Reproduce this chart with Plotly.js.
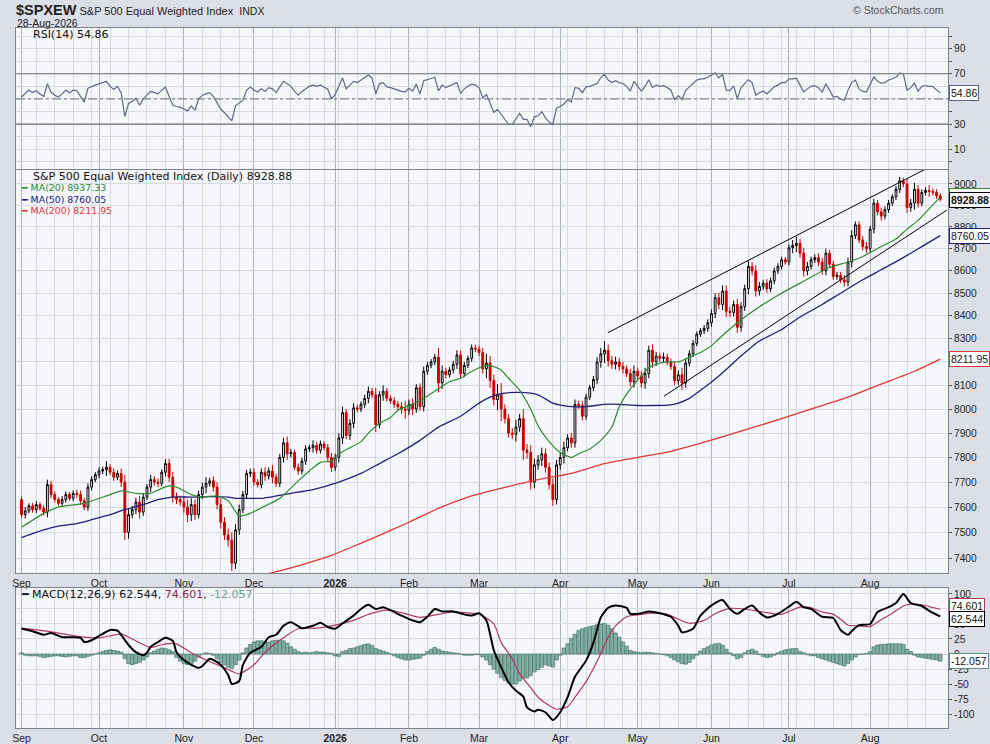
<!DOCTYPE html>
<html><head><meta charset="utf-8">
<script src="https://cdn.plot.ly/plotly-3.0.1.min.js"></script>
<style>html,body{margin:0;padding:0;background:#dcdfe8;}#chart{width:990px;height:744px;}</style>
</head><body><div id="chart"></div>
<script>
// ---------- DATA ----------
const startDate = '2025-09-02';
const endDate = '2026-08-28';
const holidays = ['2025-09-01','2025-11-27','2025-12-25','2026-01-01','2026-01-19','2026-02-16','2026-04-03','2026-05-25','2026-06-19','2026-07-03'];
const monthNames = ['Jan','Feb','Mar','Apr','May','Jun','Jul','Aug','Sep','Oct','Nov','Dec'];
const prevClose = 7630;

const closes = [
 7570,7585,7605,7590,7610,7595,7580,7690,7650,7630,7615,7630,7650,7635,7655,7650,7625,7600,7680,7710,7730,
 7745,7750,7760,7740,7720,7735,7700,7500,7570,7590,7620,7580,7640,7680,7710,7700,7695,7740,7775,7720,7640,7630,7620,
 7600,7570,7610,7570,7650,7680,7695,7705,7680,7610,7540,7490,7470,7380,7510,7590,7650,7735,7740,
 7700,7690,7740,7725,7745,7720,7695,7800,7860,7815,7820,7760,7745,7785,7835,7840,7850,7830,7855,7840,7800,7760,
 7800,7880,7985,7890,7940,8005,8000,8020,8045,8075,8060,7935,8060,8075,8045,8035,8020,8010,8000,7995,
 8020,8000,8090,8010,8160,8185,8200,8220,8110,8160,8145,8165,8190,8230,8150,8185,8215,8260,8255,
 8240,8170,8195,8120,8040,8060,8000,7960,7900,7895,7925,7960,7830,7820,7700,7770,7790,7815,7760,7690,7630,7770,
 7800,7840,7880,7860,8020,8015,7970,8050,8090,8125,8200,8235,8250,8205,8190,8200,8180,8170,8150,8115,8160,
 8140,8110,8150,8250,8200,8225,8215,8220,8200,8180,8120,8145,8110,8195,8235,8280,8320,8335,8345,8370,
 8410,8480,8450,8510,8420,8415,8450,8350,8440,8520,8620,8600,8510,8530,8545,8520,8555,8600,8620,8650,8640,
 8705,8715,8725,8680,8600,8620,8650,8660,8640,8600,8680,8630,8575,8580,8560,8550,8640,8760,8810,8740,8710,8700,
 8790,8910,8870,8850,8880,8910,8940,8975,9015,9000,8890,8910,8975,8910,8960,8970,8965,8960,8945,8928.88
];
const wick = [
 12,15,10,12,14,10,12,20,15,12,10,14,12,10,12,14,16,12,15,14,10,
 14,12,25,12,15,12,20,30,25,15,18,25,15,12,20,14,15,12,18,20,22,18,15,
 22,30,25,20,15,18,25,12,18,20,25,20,25,30,22,20,15,15,15,
 15,12,15,20,15,25,14,15,20,25,15,12,15,14,15,12,20,15,14,12,15,18,
 15,20,25,15,18,20,14,12,15,20,15,30,15,25,14,12,15,14,20,35,
 20,25,15,18,20,15,12,14,40,25,15,12,15,20,20,15,12,15,14,
 15,20,40,30,25,45,50,20,18,20,30,20,40,25,30,25,20,25,22,20,25,20,
 20,25,15,20,20,15,18,15,12,15,20,25,40,25,20,22,18,20,15,20,25,
 15,20,25,20,25,18,15,20,15,15,20,18,30,20,15,14,12,12,15,15,
 18,20,22,25,25,20,18,25,20,18,25,20,25,20,15,18,15,15,14,14,12,
 15,25,30,20,25,20,15,15,20,18,20,15,15,15,15,20,20,25,15,15,18,20,
 15,20,15,20,15,15,12,15,18,15,25,20,30,20,15,15,25,15,15,12
];
const rsi = [
 51.5,54,57,55,56.5,54,52,62,55.5,53,
 51.5,54,57,55,57,56.5,52,47.5,58.5,60,
 61,62,63,64,60,57.5,60,55,36,46.5,
 48,50.5,45,50,53,56,55,54,57,59.5,
 52,45,44,43.5,42,40.5,44.5,41,50,53,
 54,55,52,46.5,42,39,36,32.5,44.5,47,
 49,57,59.5,57,55.5,58,56,59,58,55,
 60,64,62,60,56,53,56,58,60,61,
 60,61,59,57.7,50.3,53.5,60,66.7,58,61,
 64,63,65.3,67,69,66.7,54,62,63,59.6,
 59,58,57,56,55.7,58.5,56.3,61.8,54,64.5,
 65.3,66,67.3,56.3,61,59,60.4,61.8,63,54.4,
 58,60,61.8,61,59,50.8,53.5,46.7,39.3,41.8,
 37.7,34,29.7,29.7,34,38.5,33.8,33.8,28,35.8,
 36.6,39.9,35,31.6,29.7,42.6,44,45.9,49.5,47.5,
 59,58.5,55,59.6,60,61,62.3,67,69.5,65,
 63,64.5,63,62.3,60,56.3,64,60,56.3,60,
 65.3,59,61,60,60.5,59,57,49.5,52.7,49.5,
 56.8,59.6,62,65,65.9,66,67.3,69,70.8,66.7,
 69.5,57,56.8,60.4,50.3,59,62,65.3,63,53,
 55,56.3,54,57,59.6,61,63,63,66,66,
 66.5,61,55.5,58,60,60.5,59,55.5,62,57,
 51.5,52,50,49,57,63,65,58,56,55.5,
 61,67.5,64,62.5,63,65,66,67.5,70.5,70,
 57,59,62.5,56,60,60.5,60,60,57,54.86
];
const ma20Idx = [0,6,10,17,24,27,31,35,38,40,42,46,49,53,56,59,62,64,70,75,78,81,84,86,89,92,94,97,100,102,105,108,111,113,116,119,121,124,126,128,130,132,135,138,140,143,146,149,151,154,157,160,162,165,168,170,173,176,178,181,184,187,189,194,200,206,211,219,224,228,233,237,240,243,246,249];
const ma20Val = [7520,7575,7600,7615,7650,7665,7655,7655,7675,7685,7680,7650,7640,7645,7625,7565,7575,7590,7635,7705,7745,7780,7785,7815,7840,7865,7900,7940,7965,7995,8015,8035,8065,8085,8115,8130,8150,8175,8185,8180,8165,8130,8080,8000,7930,7865,7820,7800,7815,7835,7870,7925,8010,8085,8140,8175,8195,8200,8200,8220,8240,8270,8300,8370,8440,8500,8545,8615,8640,8665,8710,8745,8790,8830,8885,8937.33];
const ma50Idx = [0,2,6,10,15,19,24,28,33,37,41,46,51,56,58,62,65,73,79,86,92,97,102,108,113,119,124,127,130,135,140,144,149,153,158,162,167,171,176,178,181,185,189,195,200,206,211,217,222,228,233,239,244,249];
const ma50Val = [7480,7490,7510,7525,7535,7550,7570,7590,7610,7630,7640,7640,7642,7640,7635,7635,7635,7655,7670,7700,7735,7775,7815,7870,7925,7970,8025,8050,8065,8070,8060,8025,8010,8010,8020,8020,8015,8015,8018,8025,8045,8090,8140,8225,8290,8340,8395,8450,8500,8560,8605,8660,8710,8760.05];
const ma200Idx = [60,67,75,84,89,94,105,113,121,130,140,149,158,167,176,189,206,215,224,233,242,249];
const ma200Val = [7310,7340,7370,7410,7440,7470,7540,7595,7640,7675,7710,7735,7775,7800,7825,7880,7960,8005,8050,8105,8160,8211.95];
const chanUpperIdx = [158.9, 250.8];
const chanUpperVal = [8326, 9123];
const chanLowerIdx = [174.1, 250.8];
const chanLowerVal = [8054, 8878];
const macdIdx = [0,3,6,8,11,14,16,17,19,21,24,26,27,29,31,33,34,35,37,39,41,42,44,46,48,49,51,52,54,56,57,59,60,62,65,67,69,71,73,76,79,81,83,85,87,90,92,94,96,98,100,103,106,108,110,112,114,117,120,122,124,126,127,128,130,132,134,136,137,139,140,142,144,146,148,150,153,155,157,159,161,164,165,168,170,173,176,178,179,182,184,187,190,192,194,196,198,200,202,205,208,210,212,214,217,220,222,224,225,227,230,232,235,237,239,241,244,246,249];
const macdVal = [42,38,32,35,28,28,27,20,23,30,40,39,32,15,3,-2,2,12,20,27,22,3,-10,-18,-23,-20,-8,-10,-18,-35,-50,-45,-18,2,12,28,32,47,53,43,47,52,45,42,51,64,75,82,75,78,73,64,56,53,62,75,71,71,66,64,68,56,33,6,-22,-47,-61,-71,-89,-96,-93,-97,-110,-97,-72,-38,-11,19,61,77,81,77,67,68,71,68,62,47,36,42,64,81,90,75,67,75,81,69,61,67,79,87,78,75,62,60,40,32,38,48,50,70,78,85,100,85,80,72,62.544];
const signalIdx = [0,8,17,21,27,30,35,39,42,46,50,55,59,63,66,71,75,80,84,90,94,99,103,108,113,117,122,124,128,130,133,135,138,140,143,145,148,150,153,156,159,161,164,168,171,175,178,181,185,188,192,196,201,206,208,211,214,217,220,222,224,226,230,233,236,239,241,244,246,249];
const signalVal = [43,37,28,27,33,25,11,17,17,2,-10,-23,-33,-18,3,27,42,43,47,56,66,73,69,61,66,70,68,67,50,19,-8,-33,-56,-72,-86,-92,-88,-72,-46,-12,28,47,62,66,68,66,58,51,56,67,76,75,70,66,71,78,77,70,66,58,48,47,46,57,68,80,83,82,79,74.601];
const hist = [
 2,-2,-3,-3,-3,-4,-6,-5,-4,-3,
 -3,-4,-5,-4,-3,-3,-6,-6,-4,-2,
 0,2,4,6,7,6,5,3,-8,-16,
 -18,-16,-14,-10,-5,2,5,8,10,9,
 7,4,-6,-12,-16,-18,-17,-12,-5,0,
 2,1,-2,-8,-14,-18,-22,-24,-18,-10,
 2,10,16,20,22,22,20,20,22,23,
 23,22,18,12,8,4,2,3,2,3,
 4,3,3,2,1,-3,-4,4,6,9,
 10,12,14,16,17,14,9,7,5,3,
 0,-3,-6,-8,-10,-10,-9,-8,-7,-2,
 4,8,11,8,5,4,3,2,1,0,
 -2,-2,-2,-1,-1,-5,-10,-18,-25,-32,
 -39,-44,-48,-50,-50,-45,-40,-40,-36,-30,
 -26,-22,-18,-20,-22,-10,-2,10,17,26,
 33,39,42,44,46,47,49,50,51,48,
 42,35,28,20,13,6,4,3,2,3,
 3,2,1,0,-1,-3,-6,-10,-13,-16,
 -17,-14,-8,-2,5,9,12,15,17,18,
 15,8,2,-3,-8,-6,2,6,8,5,
 -1,-4,-6,-5,-2,2,5,7,8,9,
 9,4,2,-1,-3,-3,-6,-8,-10,-12,
 -14,-16,-18,-20,-16,-10,-5,-1,0,1,
 4,12,15,16,16,17,17,17,17,16,
 8,4,-2,-5,-6,-7,-8,-9,-10,-12.057
];
const priceTicks = [7400,7500,7600,7700,7800,7900,8000,8100,8200,8300,8400,8500,8600,8700,8800,8900,9000];
const rsiTicks = [0,10,20,30,40,50,60,70,80,90,100];
const rsiLabels = ['','10','','30','','50','','70','','90',''];
const macdTicks = [-100,-75,-50,-25,0,25,50,75,100];

// ---------- BUILD ----------
function tradingDays(s, e, hol) {
  const out = []; const d = new Date(s + 'T12:00:00Z'); const end = new Date(e + 'T12:00:00Z');
  while (d <= end) {
    const wd = d.getUTCDay(); const iso = d.toISOString().slice(0, 10);
    if (wd !== 0 && wd !== 6 && hol.indexOf(iso) < 0) out.push(iso);
    d.setUTCDate(d.getUTCDate() + 1);
  }
  return out;
}
const dates = tradingDays(startDate, endDate, holidays);
const N = closes.length;
const idx = closes.map((_, i) => i);
const opens = closes.map((c, i) => i === 0 ? prevClose : closes[i - 1]);
const highs = closes.map((c, i) => Math.max(c, opens[i]) + wick[i]);
const lows = closes.map((c, i) => Math.min(c, opens[i]) - wick[i]);

const monthIdx = [], monthText = [], weekIdx = [];
dates.forEach((d, i) => {
  if (i >= N) return;
  if (i === 0 || d.slice(0, 7) !== dates[i - 1].slice(0, 7)) {
    monthIdx.push(i);
    const mm = +d.slice(5, 7);
    monthText.push(mm === 1 ? '<b>' + d.slice(0, 4) + '</b>' : monthNames[mm - 1]);
  }
  if (i > 0) {
    const a = new Date(dates[i - 1] + 'T00:00:00Z'), b = new Date(d + 'T00:00:00Z');
    if (b.getUTCDay() < a.getUTCDay() || (b - a) > 3 * 864e5) weekIdx.push(i);
  }
});

const last = a => a[a.length - 1];
// tick labels that sit under a value tag are left blank, as the tags hide them
const nearTag = (v, tags, tol) => tags.some(t => Math.abs(t - v) < tol);
const priceTags = [last(closes), last(ma20Val), last(ma50Val), last(ma200Val)];
const macdTags = [last(macdVal), last(signalVal), last(hist)];
const priceText = priceTicks.map(v => nearTag(v, priceTags, 22) ? '' : String(v));
const macdText = macdTicks.map(v => nearTag(v, macdTags, 9) ? '' : String(v));
const rsiText = rsiTicks.map((v, i) => Math.abs(v - last(rsi)) < 6 ? '' : rsiLabels[i]);

const ML = 16, MR = 42, W = 990, H = 744;
const PW = W - ML - MR;
const xp = px => (px - ML) / PW;
const yp = py => 1 - py / H;

const AX = 'Liberation Sans, Arial, sans-serif';
const VF = 'DejaVu Sans, Verdana, sans-serif';
const C = { ma20: '#2f8a2f', ma50: '#202078', ma200: '#e03535', rsi: '#626882', macd: '#000000', sig: '#b03a62', hist: '#83afa2', histLine: '#3f6d64', up: '#000000', dn: '#c80000' };

const traces = [
  { type: 'candlestick', x: idx, open: opens, high: highs, low: lows, close: closes, xaxis: 'x', yaxis: 'y',
    increasing: { line: { color: C.up, width: 1 }, fillcolor: '#ffffff' },
    decreasing: { line: { color: C.dn, width: 1 }, fillcolor: C.dn },
    whiskerwidth: 0, hoverinfo: 'skip' },
  { type: 'scatter', mode: 'lines', x: ma200Idx, y: ma200Val, xaxis: 'x', yaxis: 'y', line: { color: C.ma200, width: 1.3, shape: 'spline', smoothing: 0.6 }, hoverinfo: 'skip' },
  { type: 'scatter', mode: 'lines', x: ma50Idx, y: ma50Val, xaxis: 'x', yaxis: 'y', line: { color: C.ma50, width: 1.3, shape: 'spline', smoothing: 0.6 }, hoverinfo: 'skip' },
  { type: 'scatter', mode: 'lines', x: ma20Idx, y: ma20Val, xaxis: 'x', yaxis: 'y', line: { color: C.ma20, width: 1.2, shape: 'spline', smoothing: 0.6 }, hoverinfo: 'skip' },
  { type: 'scatter', mode: 'lines', x: chanUpperIdx, y: chanUpperVal, xaxis: 'x', yaxis: 'y', line: { color: '#000', width: 1 }, hoverinfo: 'skip' },
  { type: 'scatter', mode: 'lines', x: chanLowerIdx, y: chanLowerVal, xaxis: 'x', yaxis: 'y', line: { color: '#000', width: 1 }, hoverinfo: 'skip' },
  { type: 'scatter', mode: 'lines', x: idx, y: rsi, xaxis: 'x', yaxis: 'y3', line: { color: C.rsi, width: 1.2 }, hoverinfo: 'skip' },
  { type: 'bar', x: idx, y: hist, xaxis: 'x2', yaxis: 'y2', width: 1, marker: { color: C.hist, line: { color: C.histLine, width: 0.6 } }, hoverinfo: 'skip' },
  { type: 'scatter', mode: 'lines', x: signalIdx, y: signalVal, xaxis: 'x2', yaxis: 'y2', line: { color: C.sig, width: 1.2, shape: 'spline', smoothing: 0.6 }, hoverinfo: 'skip' },
  { type: 'scatter', mode: 'lines', x: macdIdx, y: macdVal, xaxis: 'x2', yaxis: 'y2', line: { color: C.macd, width: 2, shape: 'spline', smoothing: 0.6 }, hoverinfo: 'skip' }
];

const gridMinor = '#d8dbe3', gridMajor = '#aeb1bb', frame = '#7f828c';
const xCommon = {
  range: [-1.5, 251.1], tickmode: 'array', tickvals: monthIdx, ticktext: monthText,
  showgrid: true, gridcolor: gridMajor, gridwidth: 1, zeroline: false,
  minor: { tickmode: 'array', tickvals: weekIdx, showgrid: true, gridcolor: gridMinor, gridwidth: 1, ticks: '' },
  ticks: '', tickfont: { family: AX, size: 10.5, color: '#222' }, showline: true, linecolor: frame, linewidth: 1,
  fixedrange: true, rangeslider: { visible: false }
};
const yCommon = { side: 'right', showgrid: true, gridcolor: gridMinor, zeroline: false, showline: true, mirror: true, linecolor: frame,
  ticks: 'outside', ticklen: 3, tickcolor: '#555', tickfont: { family: AX, size: 10.2, color: '#222' }, fixedrange: true };

const tag = (text, yref, y, border, bold, yshift) => ({
  xref: 'paper', x: 1, xanchor: 'left', xshift: 1, yshift: yshift || 0, yref: yref, y: y, yanchor: 'middle', showarrow: false,
  text: bold ? '<b>' + text + '</b>' : text, bgcolor: '#ffffff', bordercolor: border, borderwidth: 1, borderpad: 1,
  font: { family: AX, size: 10.5, color: '#111' }
});
const lbl = (text, px, py, size, color, family, anchor) => ({
  xref: 'paper', yref: 'paper', x: xp(px), y: yp(py), xanchor: anchor || 'left', yanchor: 'middle', showarrow: false,
  text: text, font: { family: family || VF, size: size, color: color || '#111' }
});

const annotations = [
  lbl('<span style="font-size:14.5px"><b>$SPXEW</b></span> S&P 500 Equal Weighted Index\u00a0\u00a0<span style="font-size:10.5px">INDX</span>', 14, 10, 11, '#222', AX),
  lbl('28-Aug-2026', 15, 23, 10.5, '#222', AX),
  lbl('\u00a9 StockCharts.com', 946, 10, 10.5, '#555', AX, 'right'),
  lbl('RSI(14) ' + last(rsi).toFixed(2), 31, 35, 11, '#111'),
  lbl('S&P 500 Equal Weighted Index (Daily) ' + last(closes).toFixed(2), 31, 176, 11, '#111'),
  lbl('<span style="color:' + C.ma20 + '">\u2501 MA(20) ' + last(ma20Val).toFixed(2) + '</span>', 19, 187.5, 9.4, C.ma20),
  lbl('<span style="color:' + C.ma50 + '">\u2501 MA(50) ' + last(ma50Val).toFixed(2) + '</span>', 19, 199, 9.4, C.ma50),
  lbl('<span style="color:' + C.ma200 + '">\u2501 MA(200) ' + last(ma200Val).toFixed(2) + '</span>', 19, 210.5, 9.4, C.ma200),
  lbl('\u2501 MACD(12,26,9) ' + last(macdVal).toFixed(3) + ', <span style="color:#8b1e4a">' + last(signalVal).toFixed(3) + '</span>, <span style="color:#6c9c92">' + last(hist).toFixed(3) + '</span>', 19, 594, 11, '#111'),
  tag(last(rsi).toFixed(2), 'y3', last(rsi), '#5a6482'),
  tag(last(ma20Val).toFixed(2), 'y', Math.log10(last(ma20Val)), C.ma20, false, 1),
  tag(last(closes).toFixed(2), 'y', Math.log10(last(closes)), '#000', true, -1),
  tag(last(ma50Val).toFixed(2), 'y', Math.log10(last(ma50Val)), C.ma50),
  tag(last(ma200Val).toFixed(2), 'y', Math.log10(last(ma200Val)), C.ma200),
  tag(last(signalVal).toFixed(3), 'y2', last(signalVal), C.sig, false, 3),
  tag(last(macdVal).toFixed(3), 'y2', last(macdVal), '#000', false, -3),
  tag(last(hist).toFixed(3), 'y2', last(hist), '#5f8f86')
];

const shapes = [
  { type: 'line', xref: 'x domain', yref: 'y3', x0: 0, x1: 1, y0: 70, y1: 70, line: { color: '#6e717a', width: 1.2 } },
  { type: 'line', xref: 'x domain', yref: 'y3', x0: 0, x1: 1, y0: 30, y1: 30, line: { color: '#6e717a', width: 1.2 } },
  { type: 'line', xref: 'x domain', yref: 'y3', x0: 0, x1: 1, y0: 50, y1: 50, line: { color: '#6e717a', width: 1, dash: 'dashdot' } }
];

const layout = {
  width: W, height: H, margin: { l: ML, r: MR, t: 0, b: 0 },
  paper_bgcolor: '#dcdfe8', plot_bgcolor: '#f6f7fb', showlegend: false,
  xaxis: Object.assign({}, xCommon, { anchor: 'y', mirror: 'all' }),
  xaxis2: Object.assign({}, xCommon, { anchor: 'y2', matches: 'x', mirror: true }),
  yaxis: Object.assign({}, yCommon, { domain: [0.2298, 0.7715], type: 'log', range: [3.86583, 3.95742], tickmode: 'array', tickvals: priceTicks, ticktext: priceText }),
  yaxis2: Object.assign({}, yCommon, { domain: [0.0215, 0.2097], range: [-123.3, 110], tickmode: 'array', tickvals: macdTicks, ticktext: macdText }),
  yaxis3: Object.assign({}, yCommon, { domain: [0.7728, 0.9624], range: [-5.7, 106.4], tickmode: 'array', tickvals: rsiTicks, ticktext: rsiText }),
  bargap: 0,
  annotations: annotations, shapes: shapes
};

Plotly.newPlot('chart', traces, layout, { displayModeBar: false, staticPlot: true });
</script>
</body></html>
